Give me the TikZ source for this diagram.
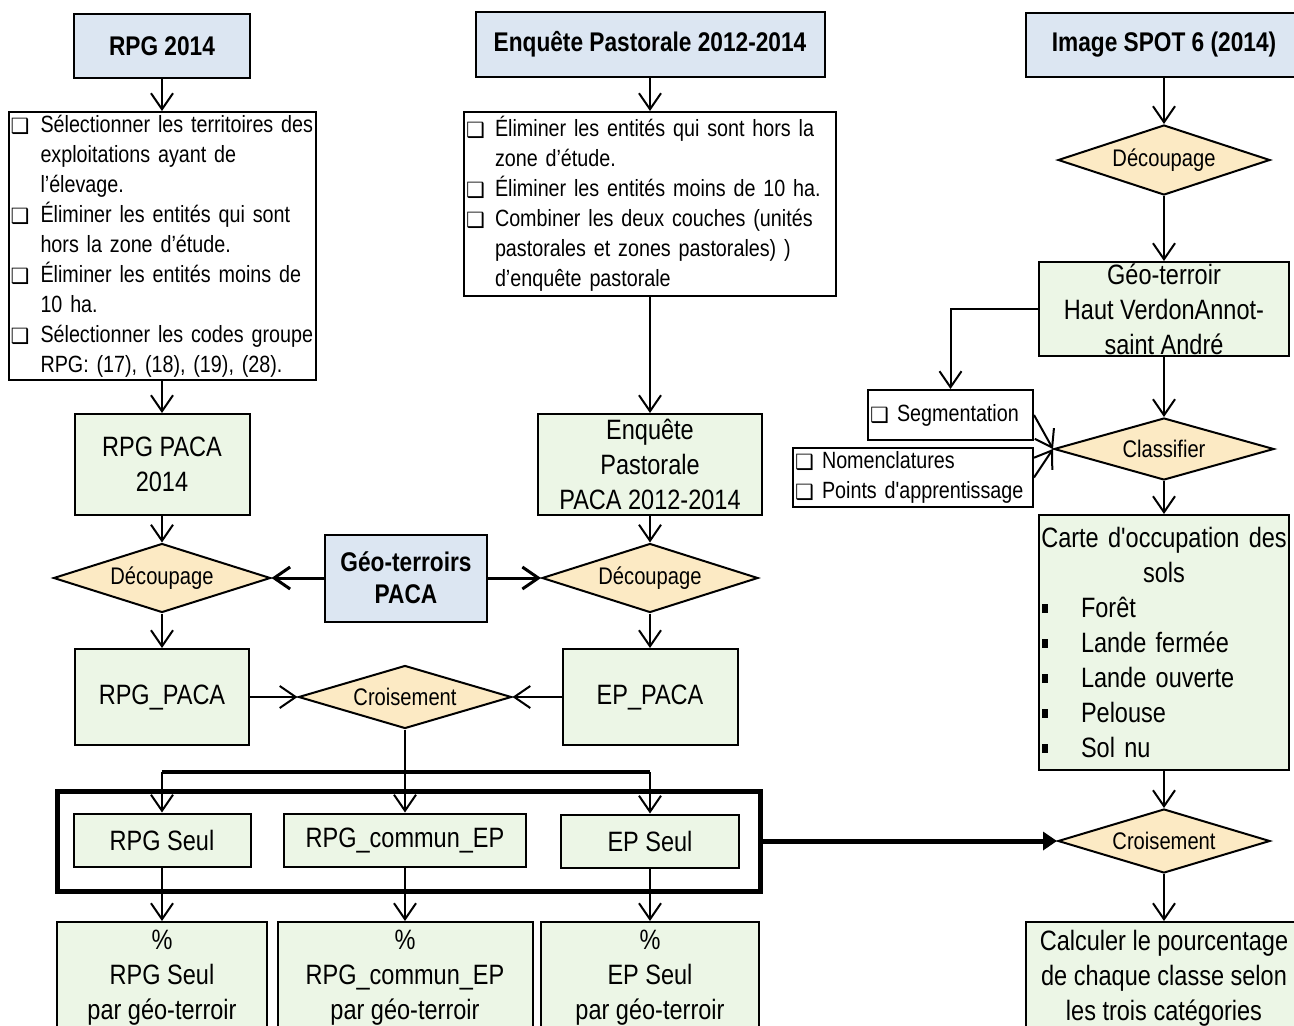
\documentclass[tikz,border=0pt]{standalone}
\usepackage{fontspec}
\setmainfont{Liberation Sans}[FakeStretch=0.84]
\newfontfamily\dingfont{DejaVu Sans}
\usetikzlibrary{shapes.geometric,arrows.meta}
\definecolor{headblue}{RGB}{220,230,242}
\definecolor{boxgreen}{RGB}{236,246,230}
\definecolor{testtan}{RGB}{252,234,196}
\newcommand{\sqb}[1][30pt]{\makebox[#1][l]{\raisebox{-1pt}{\dingfont\fontsize{21}{21}\selectfont ❑}}}
\newcommand{\blk}{\makebox[39pt][l]{\raisebox{5pt}{\rule{6pt}{9pt}}}}
\newcommand{\apos}{{\addfontfeature{Ligatures=TeXOff}'}}
\newcommand{\tightsp}{\spaceskip=4pt plus 2pt\relax}

\begin{document}
\begin{tikzpicture}[x=1pt,y=-1pt,
head node/.style={draw,line width=2pt,fill=headblue,align=center,
  font=\fontsize{27}{32}\selectfont\bfseries,inner sep=0pt},
green node/.style={draw,line width=2pt,fill=boxgreen,align=center,
  font=\fontsize{28}{35}\selectfont,inner sep=0pt},
list node/.style={draw,line width=2pt,fill=white,align=left,
  font=\fontsize{23.5}{30}\selectfont\tightsp,
  inner xsep=2pt,inner ysep=0pt},
test node/.style={diamond,draw,line width=2pt,fill=testtan,aspect=3.1,
  font=\fontsize{24}{28}\selectfont,inner sep=0pt},
arr/.style={line width=2pt,-{Straight Barb[length=16pt,width=22pt]}},
big arr/.style={line width=5pt,-{Triangle[length=14pt,width=18pt]}}]

\useasboundingbox (0,0) rectangle (1294,1026);
\clip (0,0) rectangle (1294,1026);

% sources
\node[head node,minimum width=176pt,minimum height=64pt] (rpg) at (162,46) {RPG 2014};
\node[head node,minimum width=349pt,minimum height=65pt] (ep) at (650,44.5) {Enquête Pastorale 2012-2014};
\node[head node,minimum width=277pt,minimum height=64pt] (spot) at (1164,45) {Image SPOT 6 (2014)};

% left part
\node[list node,text width=303pt,minimum height=268pt] (rpgsel) at (162,246)
 {\sqb Sélectionner les territoires des\\
  \hspace*{30pt}exploitations ayant de\\
  \hspace*{30pt}l’élevage.\\
  \sqb Éliminer les entités qui sont\\
  \hspace*{30pt}hors la zone d’étude.\\
  \sqb Éliminer les entités moins de\\
  \hspace*{30pt}10 ha.\\
  \sqb Sélectionner les codes groupe\\
  \hspace*{30pt}RPG: (17), (18), (19), (28).};
\node[list node,text width=368pt,minimum height=184pt] (epsel) at (650,204)
 {\sqb[29pt]Éliminer les entités qui sont hors la\\
  \hspace*{29pt}zone d’étude.\\
  \sqb[29pt]Éliminer les entités moins de 10 ha.\\
  \sqb[29pt]Combiner les deux couches (unités\\
  \hspace*{29pt}pastorales et zones pastorales) )\\
  \hspace*{29pt}d’enquête pastorale};

\node[green node,minimum width=175pt,minimum height=101pt] (rpgpaca) at (162,464.5) {RPG PACA\\2014};
\node[green node,minimum width=224pt,minimum height=101pt] (eppaca) at (650,464.5) {Enquête\\Pastorale\\PACA 2012-2014};

\node[test node,minimum width=217pt,minimum height=69pt] (cut1) at (162,578) {Découpage};
\node[head node,minimum width=162pt,minimum height=87pt] (terr) at (406,578) {Géo-terroirs\\PACA};
\node[test node,minimum width=216pt,minimum height=69pt] (cut2) at (650,578) {Découpage};

\node[green node,minimum width=174pt,minimum height=96pt] (rpgcut) at (162,697) {RPG\_PACA};
\node[test node,minimum width=213pt,minimum height=63pt] (cross) at (405,697) {Croisement};
\node[green node,minimum width=175pt,minimum height=96pt] (epcut) at (650,697) {EP\_PACA};

\coordinate (left) at (162,772);
\coordinate (split) at (405,772);
\coordinate (right) at (650,772);

\node[draw,line width=5pt,minimum width=703pt,minimum height=100pt] (group) at (408.5,841) {};
\node[green node,minimum width=177pt,minimum height=53pt] (rpgonly) at (162,840) {RPG Seul};
\node[green node,minimum width=242pt,minimum height=53pt] (common) at (405,840) {RPG\_commun\_EP};
\node[green node,minimum width=178pt,minimum height=53pt] (eponly) at (650,841) {EP Seul};

\node[green node,minimum width=210pt,minimum height=112pt] (pcrpg) at (162,978) {\%\\RPG Seul\\par géo-terroir};
\node[green node,minimum width=255pt,minimum height=112pt] (pccom) at (405,978) {\%\\RPG\_commun\_EP\\par géo-terroir};
\node[green node,minimum width=218pt,minimum height=112pt] (pcep) at (650,978) {\%\\EP Seul\\par géo-terroir};

% right part
\node[test node,minimum width=212pt,minimum height=70pt] (cut3) at (1164,160) {Découpage};
\node[green node,minimum width=250pt,minimum height=94pt] (hv) at (1164,309) {Géo-terroir\\Haut VerdonAnnot-\\saint André};
\node[list node,text width=161pt,minimum height=50pt] (seg) at (950.5,415) {\sqb[27pt]Segmentation};
\node[list node,text width=236pt,minimum height=59pt] (nom) at (913,477.5)
 {\sqb[27pt]Nomenclatures\\\sqb[27pt]Points d\apos apprentissage};
\node[test node,minimum width=220pt,minimum height=62pt] (classify) at (1164,449) {Classifier};
\node[green node,text width=244pt,inner xsep=3pt,minimum height=255pt,align=left] (map) at (1164,642.5)
 {\makebox[244pt]{Carte d\apos occupation des}\\
  \makebox[244pt]{sols}\\
  \blk Forêt\\
  \blk Lande fermée\\
  \blk Lande ouverte\\
  \blk Pelouse\\
  \blk Sol nu};
\node[test node,minimum width=212pt,minimum height=64pt] (cross2) at (1164,841) {Croisement};
\node[green node,minimum width=276pt,minimum height=112pt] (calc) at (1164,978)
 {Calculer le pourcentage\\de chaque classe selon\\les trois catégories};

% connectors
\draw[arr] (rpg) -- (rpgsel);
\draw[arr] (rpgsel) -- (rpgpaca);
\draw[arr] (rpgpaca) -- (cut1);
\draw[arr] (cut1) -- (rpgcut);
\draw[arr] (ep) -- (epsel);
\draw[arr] (epsel) -- (eppaca);
\draw[arr] (eppaca) -- (cut2);
\draw[arr] (cut2) -- (epcut);
\draw[arr,line width=3pt] (terr) -- (cut1);
\draw[arr,line width=3pt] (terr) -- (cut2);
\draw[arr] (rpgcut) -- (cross);
\draw[arr] (epcut) -- (cross);
\draw[line width=2pt] (cross) -- (split);
\draw[line width=4pt] (left) -- (right);
\draw[arr] (left) -- (rpgonly);
\draw[arr] (split) -- (common);
\draw[arr] (right) -- (eponly);
\draw[arr] (rpgonly) -- (pcrpg);
\draw[arr] (common) -- (pccom);
\draw[arr] (eponly) -- (pcep);

\draw[arr] (spot) -- (cut3);
\draw[arr] (cut3) -- (hv);
\draw[arr] (hv) -- (classify);
\draw[arr] (hv.west) -| (seg);
\draw[arr] (seg.east) -- (classify.west);
\draw[arr] (nom.east) -- (classify.west);
\draw[arr] (classify) -- (map);
\draw[arr] (map) -- (cross2);
\draw[arr] (cross2) -- (calc);
\draw[big arr] (group) -- (cross2);
\end{tikzpicture}
\end{document}
